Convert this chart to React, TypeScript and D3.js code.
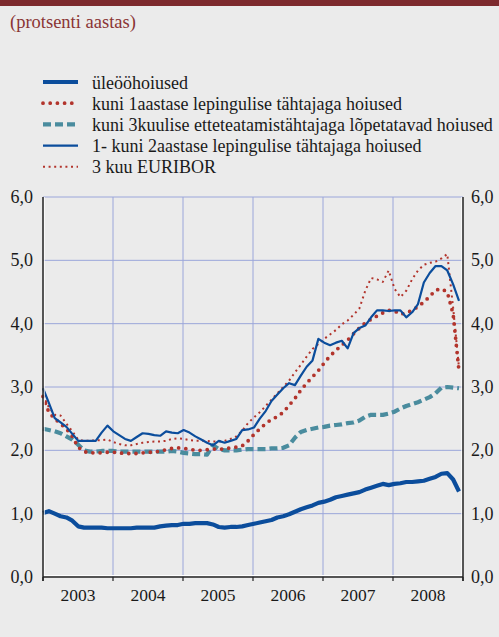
import React from "react";
import * as d3 from "d3";

const years = [2003, 2004, 2005, 2006, 2007, 2008];
const yTicks = [0, 1, 2, 3, 4, 5, 6];

// Monthly values, Jan 2003 – Dec 2008
const overnight = [
  1.01, 1.04, 1.0, 0.96, 0.94, 0.89, 0.8, 0.78, 0.78, 0.78, 0.78, 0.77,
  0.77, 0.77, 0.77, 0.77, 0.78, 0.78, 0.78, 0.78, 0.8, 0.81, 0.82, 0.82,
  0.84, 0.84, 0.85, 0.85, 0.85, 0.83, 0.79, 0.78, 0.79, 0.79, 0.8, 0.82,
  0.84, 0.86, 0.88, 0.9, 0.94, 0.96, 0.99, 1.03, 1.07, 1.1, 1.13, 1.17,
  1.19, 1.22, 1.26, 1.28, 1.3, 1.32, 1.34, 1.38, 1.41, 1.44, 1.47, 1.45,
  1.47, 1.48, 1.5, 1.5, 1.51, 1.52, 1.55, 1.58, 1.63, 1.64, 1.54, 1.35,
];
const upTo1Year = [
  2.85, 2.6, 2.5, 2.42, 2.34, 2.22, 2.05, 1.98, 1.96, 1.96, 1.96, 1.97,
  1.97, 1.96, 1.95, 1.95, 1.95, 1.96, 1.97, 1.97, 1.99, 2.01, 2.03, 2.04,
  2.03, 2.02, 2.0, 2.0, 2.01, 2.02, 2.02, 2.02, 2.04, 2.05, 2.07, 2.15,
  2.25, 2.34, 2.42, 2.49, 2.53, 2.6, 2.71, 2.82, 2.95, 3.06, 3.16, 3.26,
  3.38, 3.49, 3.58, 3.66, 3.74, 3.84, 3.93, 4.01, 4.07, 4.12, 4.17, 4.21,
  4.2, 4.15, 4.17, 4.21, 4.27, 4.34, 4.43, 4.53, 4.55, 4.5, 4.15, 3.25,
];
const notice3Months = [
  2.34, 2.32, 2.3, 2.27, 2.22, 2.17, 2.09, 2.0, 1.98, 1.98, 1.99, 1.99,
  1.99, 1.98, 1.98, 1.98, 1.98, 1.98, 1.98, 1.98, 1.98, 1.98, 1.99, 1.98,
  1.96, 1.95, 1.94, 1.94, 1.93, 2.08, 2.02, 2.0, 2.0, 2.0, 2.01, 2.02,
  2.02, 2.02, 2.02, 2.03, 2.03, 2.04, 2.08, 2.2, 2.29, 2.32, 2.34, 2.36,
  2.37, 2.39, 2.4, 2.41, 2.43, 2.44, 2.47, 2.53, 2.56, 2.56, 2.56, 2.58,
  2.61, 2.66, 2.7, 2.73, 2.76, 2.8, 2.84, 2.9, 2.99, 3.0, 2.99, 2.98,
];
const oneToTwoYears = [
  2.98, 2.75, 2.51, 2.44, 2.37, 2.26, 2.15, 2.15, 2.15, 2.15, 2.28, 2.39,
  2.3, 2.24, 2.18, 2.15, 2.21, 2.27, 2.26, 2.24, 2.23, 2.3, 2.28, 2.27,
  2.32, 2.28, 2.22, 2.17, 2.12, 2.08, 2.15, 2.12, 2.15, 2.18, 2.32, 2.33,
  2.36, 2.5, 2.62, 2.78, 2.88, 2.98, 3.06, 3.03, 3.18, 3.32, 3.42, 3.76,
  3.7, 3.66, 3.7, 3.73, 3.61, 3.85, 3.93, 3.97, 4.1, 4.21, 4.21, 4.2,
  4.21, 4.21, 4.1, 4.18, 4.31, 4.65, 4.8, 4.91, 4.91, 4.84, 4.62, 4.36,
];
const euribor3m = [
  2.87, 2.68, 2.56, 2.55, 2.42, 2.3, 2.17, 2.15, 2.15, 2.16, 2.16, 2.17,
  2.13, 2.1, 2.08, 2.08, 2.1, 2.12, 2.13, 2.14, 2.14, 2.15, 2.18, 2.19,
  2.18, 2.16, 2.15, 2.15, 2.15, 2.14, 2.14, 2.15, 2.18, 2.22, 2.31, 2.43,
  2.52, 2.6, 2.7, 2.8, 2.9, 3.0, 3.1, 3.23, 3.35, 3.48, 3.6, 3.68,
  3.76, 3.83, 3.9, 3.99, 4.05, 4.14, 4.24, 4.52, 4.72, 4.7, 4.66, 4.84,
  4.55, 4.42, 4.52, 4.7, 4.84, 4.93, 4.96, 4.98, 5.03, 5.1, 4.25, 3.3,
];

const BLUE = "#0b4d9c";
const RED = "#b2342c";
const TEAL = "#4a8c9e";
const GRID = "#9ba6da";
const FONT = "'Liberation Serif', 'Times New Roman', serif";

type S = {
  name: string;
  data: number[];
  color: string;
  width: number;
  dash?: string;
  cap?: "round" | "butt";
};

const series: S[] = [
  { name: "üleööhoiused", data: overnight, color: BLUE, width: 4.2 },
  { name: "kuni 1aastase lepingulise tähtajaga hoiused", data: upTo1Year, color: RED, width: 3.8, dash: "0 7.2", cap: "round" },
  { name: "kuni 3kuulise etteteatamistähtajaga lõpetatavad hoiused", data: notice3Months, color: TEAL, width: 4.2, dash: "8 4", cap: "butt" },
  { name: "1- kuni 2aastase lepingulise tähtajaga hoiused", data: oneToTwoYears, color: BLUE, width: 2.2 },
  { name: "3 kuu EURIBOR", data: euribor3m, color: RED, width: 2, dash: "2 3.6", cap: "butt" },
];

const drawOrder = [2, 0, 4, 1, 3];

export default function App() {
  const W = 499;
  const H = 637;
  const left = 43;
  const right = 463;
  const top = 197;
  const bottom = 577;

  const x = d3.scaleLinear().domain([0, 71]).range([left, 459]);
  const xYear = d3.scaleLinear().domain([2003, 2009]).range([left, right]);
  const y = d3.scaleLinear().domain([0, 6]).range([bottom, top]);
  const line = d3
    .line<number>()
    .x((_, i) => x(i))
    .y((d) => y(d));

  const fmt = (v: number) => v.toFixed(1).replace(".", ",");

  return (
    <svg
      width={W}
      height={H}
      style={{ position: "absolute", left: 0, top: 0, display: "block" }}
      fontFamily={FONT}
    >
      <rect x={0} y={0} width={W} height={H} fill="#ebebeb" />
      <rect x={0} y={0} width={W} height={6} fill="#7d2a2e" />
      <text x={10} y={28} fontSize={18.5} fill="#8a3434">
        (protsenti aastas)
      </text>

      {/* legend */}
      {series.map((s, i) => {
        const ly = 82 + i * 21.2;
        return (
          <g key={s.name}>
            <line
              x1={43}
              x2={78}
              y1={ly}
              y2={ly}
              stroke={s.color}
              strokeWidth={s.width}
              strokeDasharray={s.dash}
              strokeLinecap={s.cap ?? "butt"}
            />
            <text x={92} y={ly + 6.5} fontSize={18} fill="#1a1a1a">
              {s.name}
            </text>
          </g>
        );
      })}

      {/* grid */}
      {yTicks.slice(1).map((t) => (
        <line key={"h" + t} x1={left} x2={right} y1={y(t)} y2={y(t)} stroke={GRID} strokeWidth={1} />
      ))}
      {years.slice(1).map((yr) => (
        <line key={"v" + yr} x1={xYear(yr)} x2={xYear(yr)} y1={top} y2={bottom} stroke={GRID} strokeWidth={1} />
      ))}

      {/* series */}
      {drawOrder.map((k) => {
        const s = series[k];
        return (
          <path
            key={s.name}
            d={line(s.data) ?? ""}
            fill="none"
            stroke={s.color}
            strokeWidth={s.width}
            strokeDasharray={s.dash}
            strokeLinecap={s.cap ?? "butt"}
            strokeLinejoin="round"
          />
        );
      })}

      {/* axes */}
      <line x1={left + 1.2} x2={left + 1.2} y1={top} y2={bottom} stroke="#ffffff" strokeWidth={1} />
      <line x1={right - 1.2} x2={right - 1.2} y1={top} y2={bottom} stroke="#ffffff" strokeWidth={1} />
      <line x1={left} x2={right} y1={bottom - 1.5} y2={bottom - 1.5} stroke="#ffffff" strokeWidth={1.2} />
      <line x1={left} x2={left} y1={top} y2={bottom + 4} stroke="#222" strokeWidth={1.5} />
      <line x1={right} x2={right} y1={top} y2={bottom + 4} stroke="#222" strokeWidth={1.5} />
      <line x1={left} x2={right} y1={bottom} y2={bottom} stroke="#222" strokeWidth={1.5} />
      {years.concat([2009]).map((yr) => (
        <line key={"t" + yr} x1={xYear(yr)} x2={xYear(yr)} y1={bottom} y2={bottom + 4} stroke="#222" strokeWidth={1.2} />
      ))}

      {/* y labels */}
      {yTicks.map((t) => (
        <g key={"yl" + t}>
          <text x={33} y={y(t)} dy="0.34em" textAnchor="end" fontSize={18} fill="#1a1a1a">
            {fmt(t)}
          </text>
          <text x={471} y={y(t)} dy="0.34em" textAnchor="start" fontSize={18} fill="#1a1a1a">
            {fmt(t)}
          </text>
        </g>
      ))}

      {/* x labels */}
      {years.map((yr) => (
        <text
          key={"xl" + yr}
          x={(xYear(yr) + xYear(yr + 1)) / 2}
          y={600.5}
          textAnchor="middle"
          fontSize={17.5}
          fill="#1a1a1a"
        >
          {yr}
        </text>
      ))}
    </svg>
  );
}
